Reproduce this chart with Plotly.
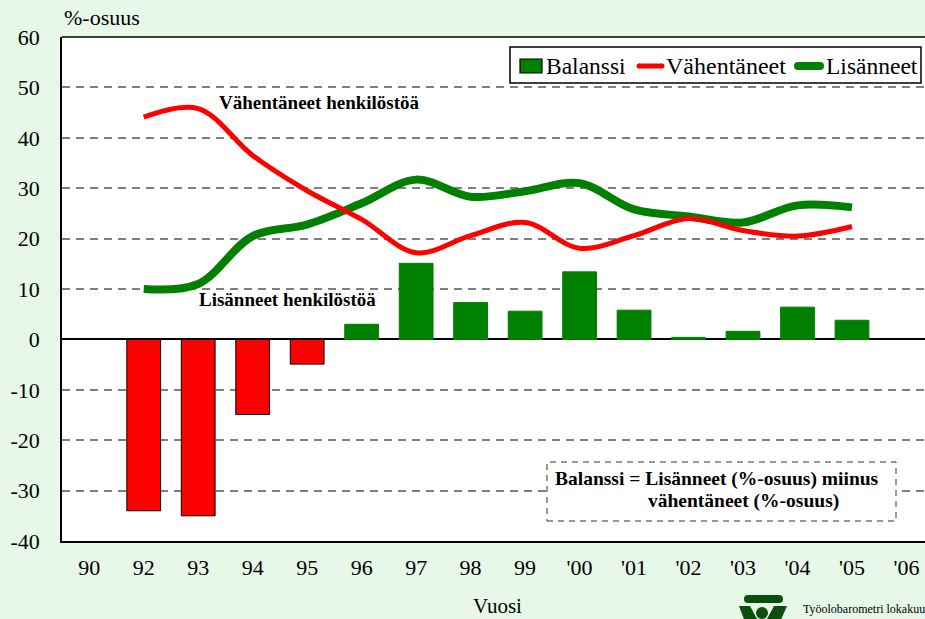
import plotly.graph_objects as go

# ---- data ----
categories = ["90", "92", "93", "94", "95", "96", "97", "98", "99", "'00", "'01", "'02", "'03", "'04", "'05", "'06"]
years = ["92", "93", "94", "95", "96", "97", "98", "99", "'00", "'01", "'02", "'03", "'04", "'05"]
balanssi = [-34.0, -35.0, -14.9, -4.9, 3.0, 15.1, 7.3, 5.6, 13.4, 5.8, 0.4, 1.6, 6.4, 3.8]
vahentaneet = [44.1, 45.8, 36.5, 29.5, 23.8, 17.2, 20.6, 23.2, 18.1, 20.6, 24.0, 21.6, 20.5, 22.4]
lisanneet = [10.0, 11.0, 20.5, 22.8, 27.0, 31.7, 28.3, 29.4, 31.0, 25.8, 24.4, 23.2, 26.6, 26.2]
y_ticks = [-40, -30, -20, -10, 0, 10, 20, 30, 40, 50, 60]
legend_names = ["Balanssi", "Vähentäneet", "Lisänneet"]

RED = "#ff0000"
GREEN = "#008000"
BG = "#e7f8e9"
FONT = "Liberation Serif"

# pixel helpers (plot area: x 62..925, y 37..541)
L, R, T, B = 62, 925, 37, 541
def PX(px):
    return (px - L) / (R - L)
def PY(py):
    return (B - py) / (B - T)

bar_colors = [RED if v < 0 else GREEN for v in balanssi]
bar_lines = ["black" if v < 0 else GREEN for v in balanssi]

fig = go.Figure()
fig.add_trace(go.Bar(
    x=years, y=balanssi, width=0.62, name=legend_names[0],
    marker=dict(color=bar_colors, line=dict(color=bar_lines, width=1)),
    showlegend=False,
))
fig.add_trace(go.Scatter(
    x=years, y=lisanneet, name=legend_names[2], mode="lines",
    line=dict(color=GREEN, width=8, shape="spline", smoothing=1.0),
    showlegend=False,
))
fig.add_trace(go.Scatter(
    x=years, y=vahentaneet, name=legend_names[1], mode="lines",
    line=dict(color=RED, width=5, shape="spline", smoothing=1.0),
    showlegend=False,
))

LOGO = "#0b4f0b"
LEG_Y = 66
shapes = [
    # top border
    dict(type="line", xref="paper", yref="paper", x0=0, x1=1, y0=1, y1=1,
         line=dict(color="black", width=1.5)),
    # legend box
    dict(type="rect", xref="paper", yref="paper",
         x0=PX(510), x1=PX(921), y0=PY(83), y1=PY(47),
         line=dict(color="black", width=1.5), fillcolor="white"),
    dict(type="rect", xref="paper", yref="paper",
         x0=PX(520), x1=PX(542), y0=PY(73), y1=PY(59),
         line=dict(color="black", width=1.2), fillcolor=GREEN),
    dict(type="line", xref="paper", yref="paper",
         x0=PX(639), x1=PX(662), y0=PY(LEG_Y), y1=PY(LEG_Y),
         line=dict(color=RED, width=5)),
    dict(type="line", xref="paper", yref="paper",
         x0=PX(798), x1=PX(820), y0=PY(LEG_Y), y1=PY(LEG_Y),
         line=dict(color=GREEN, width=8)),
    # dashed info box
    dict(type="rect", xref="paper", yref="paper",
         x0=PX(547), x1=PX(896), y0=PY(521), y1=PY(462),
         line=dict(color="#333333", width=1, dash="6px,5px"), fillcolor="white"),
    # logo
    dict(type="rect", xref="paper", yref="paper",
         x0=PX(748), x1=PX(779), y0=PY(603), y1=PY(595),
         line=dict(width=0), fillcolor=LOGO),
    dict(type="circle", xref="paper", yref="paper",
         x0=PX(744), x1=PX(752), y0=PY(603), y1=PY(595),
         line=dict(width=0), fillcolor=LOGO),
    dict(type="circle", xref="paper", yref="paper",
         x0=PX(775), x1=PX(783), y0=PY(603), y1=PY(595),
         line=dict(width=0), fillcolor=LOGO),
    dict(type="circle", xref="paper", yref="paper",
         x0=PX(756), x1=PX(768), y0=PY(619), y1=PY(607),
         line=dict(width=0), fillcolor=LOGO),
    dict(type="path", xref="paper", yref="paper",
         path=f"M {PX(739)} {PY(606)} L {PX(750)} {PY(606)} L {PX(757)} {PY(619)} L {PX(745)} {PY(622)} Z",
         line=dict(width=0), fillcolor=LOGO),
    dict(type="path", xref="paper", yref="paper",
         path=f"M {PX(774)} {PY(606)} L {PX(787)} {PY(606)} L {PX(780)} {PY(622)} L {PX(767)} {PY(619)} Z",
         line=dict(width=0), fillcolor=LOGO),
]

# circles for rounded caps of legend lines
for (cx, col, w) in [(639, RED, 5), (662, RED, 5), (798, GREEN, 8), (820, GREEN, 8)]:
    shapes.append(dict(type="circle", xref="paper", yref="paper",
                       x0=PX(cx - w / 2), x1=PX(cx + w / 2), y0=PY(LEG_Y + w / 2), y1=PY(LEG_Y - w / 2),
                       line=dict(width=0), fillcolor=col))

def txt(text, x, y, size, anchor="left", bold=False):
    return dict(text=f"<b>{text}</b>" if bold else text, xref="paper", yref="paper",
                x=PX(x), y=PY(y), xanchor=anchor, yanchor="middle", showarrow=False,
                font=dict(size=size, family=FONT, color="black"))

annotations = [
    txt("%-osuus", 62, 18, 22),
    txt("Vuosi", 497, 606, 21, anchor="center"),
    txt("Vähentäneet henkilöstöä", 217, 103, 19, bold=True),
    txt("Lisänneet henkilöstöä", 197, 300, 19, bold=True),
    txt("Balanssi = Lisänneet (%-osuus) miinus", 553, 479, 19.5, bold=True),
    txt("vähentäneet (%-osuus)", 646, 501, 19.5, bold=True),
    txt("Työolobarometri lokakuu", 801, 609, 12),
    txt(legend_names[0], 544, LEG_Y, 23.5),
    txt(legend_names[1], 664, LEG_Y, 24),
    txt(legend_names[2], 824, LEG_Y, 23.5),
]

fig.update_layout(
    width=925, height=619,
    margin=dict(l=L, r=925 - R, t=T, b=619 - B, pad=0),
    paper_bgcolor=BG, plot_bgcolor="white",
    font=dict(family=FONT, size=22, color="black"),
    barmode="overlay",
    showlegend=False,
    xaxis=dict(
        type="category", categoryorder="array", categoryarray=categories,
        tickmode="array", tickvals=categories, ticktext=categories,
        range=[-0.5, 15.34], showgrid=False, zeroline=False,
        showline=True, linecolor="black", linewidth=1.5,
        ticks="outside", ticklen=6, tickcolor="rgba(0,0,0,0)",
        tickfont=dict(size=22, family=FONT, color="black"),
        fixedrange=True,
    ),
    yaxis=dict(
        range=[-40, 60], tickvals=y_ticks, ticktext=[str(v) for v in y_ticks],
        showgrid=True, gridcolor="#7f7f7f", gridwidth=1.5, griddash="8px,6px",
        zeroline=True, zerolinecolor="black", zerolinewidth=1.5,
        showline=True, linecolor="black", linewidth=1.5,
        ticks="outside", ticklen=16, tickcolor="rgba(0,0,0,0)",
        tickfont=dict(size=22, family=FONT, color="black"),
        fixedrange=True,
    ),
    shapes=shapes,
    annotations=annotations,
)

fig.write_html("out.html", config={"displayModeBar": False},
               post_script="document.body.style.margin='0';document.body.style.overflow='hidden';")
